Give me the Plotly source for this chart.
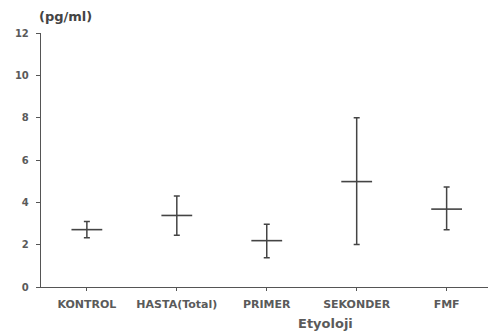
import plotly.graph_objects as go

categories = ["KONTROL", "HASTA(Total)", "PRIMER", "SEKONDER", "FMF"]
means = [2.71, 3.38, 2.19, 4.98, 3.68]
upper = [3.10, 4.30, 2.97, 8.00, 4.73]
lower = [2.33, 2.44, 1.38, 2.01, 2.71]
y_ticks = [0, 2, 4, 6, 8, 10, 12]

err_plus = [u - m for u, m in zip(upper, means)]
err_minus = [m - l for m, l in zip(means, lower)]
xs = list(range(len(categories)))

col = "#444444"
txt = "#5a5a5a"
fig = go.Figure()
fig.add_trace(go.Scatter(
    x=xs, y=means, mode="markers",
    marker=dict(symbol="line-ew", size=22, line=dict(width=1.6, color=col), color=col),
    error_y=dict(type="data", symmetric=False, array=err_plus, arrayminus=err_minus,
                 color=col, thickness=1.5, width=3),
    showlegend=False,
))

fig.update_layout(
    width=488, height=335,
    margin=dict(l=41, r=0, t=33, b=48),
    plot_bgcolor="white", paper_bgcolor="white",
    font=dict(family="DejaVu Sans", color=txt),
    xaxis=dict(
        range=[-0.51, 4.46], tickmode="array", tickvals=xs, ticktext=categories,
        showline=True, linecolor="#555", linewidth=1.4, showgrid=False, zeroline=False,
        ticks="outside", ticklen=3, tickcolor="#555", ticklabelstandoff=4,
        tickfont=dict(size=11, family="DejaVu Sans", color=txt, weight="bold"),
    ),
    yaxis=dict(
        range=[0, 12], tickmode="array", tickvals=y_ticks,
        showline=True, linecolor="#555", linewidth=1.4, showgrid=False, zeroline=False,
        ticks="outside", ticklen=4, tickcolor="#555", ticklabelstandoff=5,
        tickfont=dict(size=10, family="DejaVu Sans", color=txt, weight="bold"),
    ),
)
fig.add_annotation(text="<b>(pg/ml)</b>", xref="paper", yref="paper", x=0, y=1,
                   xshift=-4, yshift=7, xanchor="left", yanchor="bottom", showarrow=False,
                   font=dict(size=13, color="#444", family="DejaVu Sans"))
fig.add_annotation(text="<b>Etyoloji</b>", xref="x", yref="paper", x=2.65, y=0,
                   yshift=-36, xanchor="center", yanchor="middle", showarrow=False,
                   font=dict(size=13, color=txt, family="DejaVu Sans"))

fig.write_html("out.html", config={"displayModeBar": False},
               post_script="document.body.style.margin='0';document.body.style.overflow='hidden';")
